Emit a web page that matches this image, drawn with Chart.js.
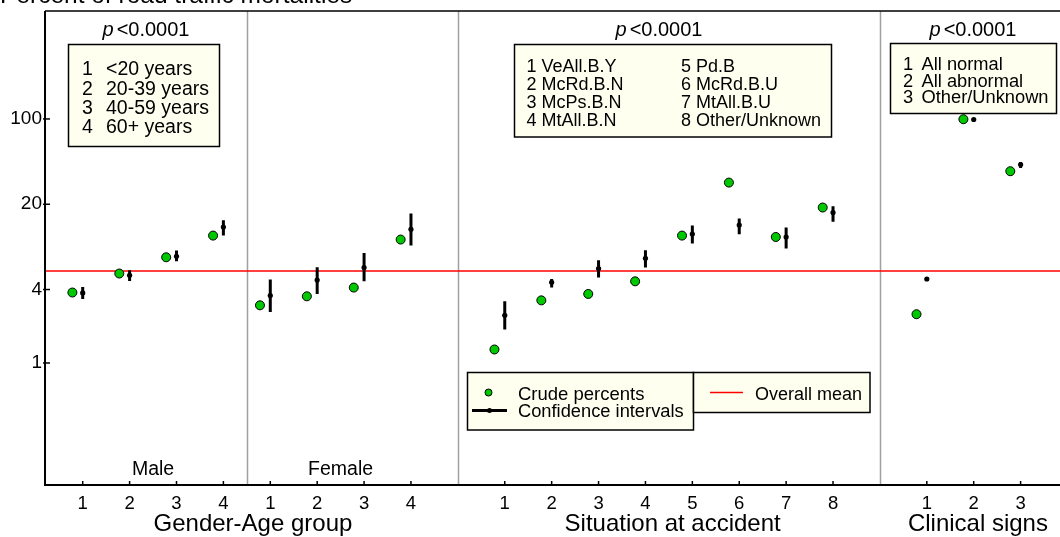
<!DOCTYPE html>
<html><head><meta charset="utf-8">
<script src="https://cdn.jsdelivr.net/npm/chart.js@4"></script>
<style>html,body{margin:0;padding:0;background:#fff;overflow:hidden}canvas{display:block}</style>
</head><body>
<canvas id="c" width="1060" height="537"></canvas>
<script>
// ---- data ----
const chartTitle = 'Percent of road traffic mortalities';
const genders = ['Male', 'Female'];
const ageGroups = ['<20 years', '20-39 years', '40-59 years', '60+ years'];
const situations = ['VeAll.B.Y', 'McRd.B.N', 'McPs.B.N', 'MtAll.B.N', 'Pd.B', 'McRd.B.U', 'MtAll.B.U', 'Other/Unknown'];
const clinicalSigns = ['All normal', 'All abnormal', 'Other/Unknown'];
const panelTitles = ['Gender-Age group', 'Situation at accident', 'Clinical signs'];
const pValues = ['<0.0001', '<0.0001', '<0.0001'];

// Gender-Age (Male 1-4, Female 1-4)
const ageCrude = [3.78, 5.41, 7.35, 11.07, 2.97, 3.52, 4.15, 10.27];
const ageEst   = [3.75, 5.23, 7.49, 13.0, 3.57, 4.79, 6.05, 12.47];
const ageLow   = [3.35, 4.70, 6.82, 11.07, 2.62, 3.68, 4.67, 9.17];
const ageHigh  = [4.20, 5.75, 8.34, 14.8, 4.83, 6.09, 7.97, 16.8];
// Situation at accident 1-8
const sitCrude = [1.29, 3.26, 3.68, 4.67, 11.07, 30.1, 10.78, 18.8];
const sitEst   = [2.46, 4.59, 5.94, 7.21, 11.41, 13.5, 10.78, 17.1];
const sitLow   = [1.88, 4.15, 5.01, 6.05, 9.52, 11.35, 8.66, 14.4];
const sitHigh  = [3.20, 4.88, 6.95, 8.39, 13.4, 15.3, 12.9, 19.3];
// Clinical signs 1-3
const clinCrude = [2.51, 99.5, 37.3];
const clinEst   = [4.88, 99.0, 42.3];
const clinLow   = [4.72, 97.0, 39.6];
const clinHigh  = [5.04, 101.0, 44.4];

const overallMean = 5.68;
const yTicks = [1, 4, 20, 100];
const xTickLabels = ['1','2','3','4','1','2','3','4','1','2','3','4','5','6','7','8','1','2','3'];

// ---- layout helpers ----
const agePos = [1,2,3,4,5,6,7,8];
const sitPos = [10,11,12,13,14,15,16,17];
const clinPos = [19,20,21];
const xTickPos = agePos.concat(sitPos, clinPos);
const X_MIN = 0.196, X_MAX = 21.84;
const CRUDE_SHIFT = -0.22;
const FONT = '"Liberation Sans", Arial, sans-serif';

const allPos = xTickPos;
const allCrude = ageCrude.concat(sitCrude, clinCrude);
const allEst = ageEst.concat(sitEst, clinEst);
const allLow = ageLow.concat(sitLow, clinLow);
const allHigh = ageHigh.concat(sitHigh, clinHigh);

const crudePts = allPos.map((p, i) => ({x: p + CRUDE_SHIFT, y: allCrude[i]}));
const estPts = allPos.map((p, i) => ({x: p, y: allEst[i]}));
const ciPts = [];
allPos.forEach((p, i) => { ciPts.push({x: p, y: allLow[i]}, {x: p, y: allHigh[i]}, {x: p, y: null}); });

function txt(ctx, s, x, y, size, align, style) {
  ctx.font = (style || '') + ' ' + size + 'px ' + FONT;
  ctx.textAlign = align || 'left';
  ctx.textBaseline = 'middle';
  ctx.fillStyle = '#000';
  ctx.fillText(s, x, y);
}
function box(ctx, x1, y1, x2, y2) {
  ctx.fillStyle = '#fffff0';
  ctx.fillRect(x1, y1, x2 - x1, y2 - y1);
  ctx.strokeStyle = '#000';
  ctx.lineWidth = 1.5;
  ctx.strokeRect(x1, y1, x2 - x1, y2 - y1);
}
function pText(ctx, cx, cy, val) {
  ctx.font = 'italic 20px ' + FONT;
  const w1 = ctx.measureText('p').width;
  ctx.font = '20px ' + FONT;
  const w2 = ctx.measureText(val).width;
  const start = cx - (w1 + 3 + w2) / 2;
  txt(ctx, 'p', start, cy, 20, 'left', 'italic');
  txt(ctx, val, start + w1 + 3, cy, 20, 'left');
}

const decor = {
  id: 'decor',
  beforeDatasetsDraw(chart) {
    const {ctx, chartArea: a, scales: {x}} = chart;
    ctx.save();
    ctx.strokeStyle = '#a0a0a0';
    ctx.lineWidth = 1.5;
    [4.5, 9, 18].forEach(v => {
      const px = Math.round(x.getPixelForValue(v)) + 0.5;
      ctx.beginPath(); ctx.moveTo(px, a.top); ctx.lineTo(px, a.bottom); ctx.stroke();
    });
    ctx.restore();
  },
  afterDraw(chart) {
    const {ctx, chartArea: a, scales: {x, y}} = chart;
    ctx.save();
    // frame
    ctx.strokeStyle = '#000';
    ctx.lineWidth = 1.5;
    ctx.beginPath(); ctx.moveTo(a.left, a.top); ctx.lineTo(a.right, a.top); ctx.stroke();
    ctx.lineWidth = 2;
    ctx.beginPath(); ctx.moveTo(a.left, a.top); ctx.lineTo(a.left, a.bottom); ctx.lineTo(a.right, a.bottom); ctx.stroke();
    // ticks
    ctx.lineWidth = 1.5;
    yTicks.forEach(v => {
      const py = y.getPixelForValue(v);
      ctx.beginPath(); ctx.moveTo(a.left - 2, py); ctx.lineTo(a.left + 5, py); ctx.stroke();
    });
    xTickPos.forEach(v => {
      const px = x.getPixelForValue(v);
      ctx.beginPath(); ctx.moveTo(px, a.bottom - 4); ctx.lineTo(px, a.bottom); ctx.stroke();
    });
    // title (cut at top)
    ctx.font = '24.5px ' + FONT; ctx.textAlign = 'left'; ctx.textBaseline = 'alphabetic'; ctx.fillStyle = '#000';
    ctx.fillText(chartTitle, 0, 3);
    // p-values
    pText(ctx, 146, 30, pValues[0]);
    pText(ctx, 659, 30, pValues[1]);
    pText(ctx, 973, 30, pValues[2]);
    // legend box 1
    box(ctx, 68.5, 44.5, 219.5, 146.5);
    ageGroups.forEach((g, i) => {
      const yy = 70 + i * 19.3;
      txt(ctx, String(i + 1), 82, yy, 19.5);
      txt(ctx, g, 106, yy, 19.5);
    });
    // legend box 2
    box(ctx, 514.5, 44.5, 831.5, 137);
    situations.forEach((s, i) => {
      const col = i < 4 ? 526.5 : 681;
      const yy = 67.5 + (i % 4) * 17.8;
      txt(ctx, (i + 1) + ' ' + s, col, yy, 18);
    });
    // legend box 3
    box(ctx, 890.5, 43.5, 1056.5, 113.5);
    clinicalSigns.forEach((s, i) => {
      const yy = 65 + i * 16.7;
      txt(ctx, String(i + 1), 903, yy, 18.3);
      txt(ctx, s, 921.5, yy, 18.3);
    });
    // series legend
    box(ctx, 467.5, 372.5, 693.5, 430);
    box(ctx, 693.5, 372.5, 870, 412.5);
    ctx.beginPath(); ctx.arc(488.5, 392.5, 3.5, 0, Math.PI * 2);
    ctx.fillStyle = '#00c800'; ctx.fill(); ctx.lineWidth = 1; ctx.strokeStyle = '#000'; ctx.stroke();
    ctx.lineWidth = 3; ctx.beginPath(); ctx.moveTo(472, 410.5); ctx.lineTo(507, 410.5); ctx.stroke();
    ctx.beginPath(); ctx.arc(489.5, 410.5, 2.5, 0, Math.PI * 2); ctx.fillStyle = '#000'; ctx.fill();
    txt(ctx, 'Crude percents', 518, 395, 18.5);
    txt(ctx, 'Confidence intervals', 518, 411.5, 18.3);
    ctx.strokeStyle = '#ff0000'; ctx.lineWidth = 1.5;
    ctx.beginPath(); ctx.moveTo(710, 392.5); ctx.lineTo(743, 392.5); ctx.stroke();
    txt(ctx, 'Overall mean', 755, 395, 18);
    // group labels
    txt(ctx, genders[0], x.getPixelForValue(2.5), 470, 19.5, 'center');
    txt(ctx, genders[1], x.getPixelForValue(6.5), 470, 19.5, 'center');
    // axis titles
    txt(ctx, panelTitles[0], x.getPixelForValue(4.63), 524, 24, 'center');
    txt(ctx, panelTitles[1], x.getPixelForValue(13.58), 524, 24, 'center');
    txt(ctx, panelTitles[2], x.getPixelForValue(20.09), 524, 24, 'center');
    ctx.restore();
  }
};

new Chart(document.getElementById('c'), {
  type: 'scatter',
  data: {
    datasets: [
      { label: 'Crude percents', data: crudePts, pointRadius: 4.5, pointHoverRadius: 4.5,
        backgroundColor: '#00c800', borderColor: '#000', borderWidth: 1, order: 1 },
      { label: 'Estimate', data: estPts, pointRadius: 2.6, pointHoverRadius: 2.6,
        backgroundColor: '#000', borderColor: '#000', borderWidth: 0, order: 2 },
      { type: 'line', label: 'Confidence intervals', data: ciPts, showLine: true, spanGaps: false,
        borderColor: '#000', borderWidth: 3, pointRadius: 0, borderCapStyle: 'butt', order: 3 },
      { type: 'line', label: 'Overall mean', data: [{x: X_MIN, y: overallMean}, {x: X_MAX, y: overallMean}],
        borderColor: '#ff0000', borderWidth: 1.5, pointRadius: 0, order: 4 }
    ]
  },
  options: {
    responsive: false,
    animation: false,
    events: [],
    layout: { padding: { top: 11, left: 0, right: 0, bottom: 0 }, autoPadding: false },
    plugins: { legend: { display: false }, tooltip: { enabled: false }, title: { display: false } },
    scales: {
      x: {
        type: 'linear', min: X_MIN, max: X_MAX,
        afterFit: s => { s.height = 52; s.paddingLeft = 0; s.paddingRight = 0; },
        afterBuildTicks: s => { s.ticks = xTickPos.map(v => ({value: v})); },
        grid: { display: false, drawTicks: false },
        border: { display: false },
        ticks: { autoSkip: false, maxRotation: 0, padding: 8, color: '#000',
          font: { size: 18.5, family: FONT },
          callback: (v, i) => xTickLabels[i] }
      },
      y: {
        type: 'logarithmic', min: 0.1, max: 767,
        afterFit: s => { s.width = 45; s.paddingTop = 0; s.paddingBottom = 0; },
        afterBuildTicks: s => { s.ticks = yTicks.map(v => ({value: v})); },
        grid: { display: false, drawTicks: false },
        border: { display: false },
        ticks: { padding: 3, color: '#000', font: { size: 19, family: FONT },
          callback: v => String(v) }
      }
    }
  },
  plugins: [decor]
});
</script>
</body></html>
